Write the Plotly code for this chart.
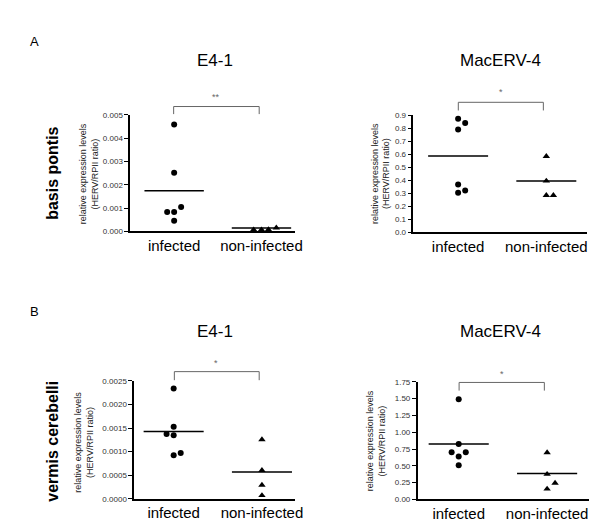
import plotly.graph_objects as go

W, H = 600, 529
FONT = "Arial, Liberation Sans, sans-serif"

categories = ["infected", "non-infected"]

# ---- data ----
# A: basis pontis, E4-1
a_e41_infected = [0.00458, 0.00251, 0.00105, 0.00083, 0.00083, 0.00045]
a_e41_noninfected = [0.00007, 0.00007, 0.00008, 0.00015]
a_e41_means = [0.00174, 0.00014]
# A: basis pontis, MacERV-4
a_mac_infected = [0.874, 0.842, 0.791, 0.366, 0.321, 0.303]
a_mac_noninfected = [0.584, 0.394, 0.283, 0.283]
a_mac_means = [0.586, 0.394]
# B: vermis cerebelli, E4-1
b_e41_infected = [0.00234, 0.00153, 0.001375, 0.001346, 0.00097, 0.000923]
b_e41_noninfected = [0.001256, 0.000604, 0.00029, 0.00007]
b_e41_means = [0.00143, 0.000569]
# B: vermis cerebelli, MacERV-4
b_mac_infected = [1.491, 0.823, 0.702, 0.702, 0.639, 0.507]
b_mac_noninfected = [0.697, 0.375, 0.244, 0.156]
b_mac_means = [0.823, 0.385]

significance = ["**", "*", "*", "*"]
titles = ["E4-1", "MacERV-4", "E4-1", "MacERV-4"]
row_labels = ["basis pontis", "vermis cerebelli"]
panel_letters = ["A", "B"]

# ---- layout (pixel geometry) ----
# jitter of points (category units) – style/positions
jit_inf = [[0, 0, 0.08, -0.08, 0, 0], [0, 0.08, 0, 0, 0.08, 0],
           [0, 0, -0.08, 0, 0.08, 0], [0, 0, -0.08, 0.08, 0, 0]]
jit_non = [[-0.09, 0, 0.08, 0.17], [0, 0, 0, 0.08],
           [0, 0, 0, 0], [0, 0, 0.09, 0]]

panels = [
    dict(inf=a_e41_infected, non=a_e41_noninfected, means=a_e41_means,
         x0=132, x1=299, c1=176.5, c2=265, ytop=112.7, ybot=231.3,
         yr=[0, 0.005], dtick=0.001, fmt=".3f",
         br=(176, 262.7, 104.3, 112), star=(219, 95),
         title=(218, 57), ytitle=(90, 172.5)),
    dict(inf=a_mac_infected, non=a_mac_noninfected, means=a_mac_means,
         x0=419, x1=595, c1=464.3, c2=553.7, ytop=113.3, ybot=232,
         yr=[0, 0.9], dtick=0.1, fmt=".1f",
         br=(464.5, 550.7, 100, 108.3), star=(507.5, 90),
         title=(507, 57), ytitle=(386, 172)),
    dict(inf=b_e41_infected, non=b_e41_noninfected, means=b_e41_means,
         x0=136, x1=299, c1=176, c2=265.5, ytop=383.5, ybot=503.3,
         yr=[0, 0.0025], dtick=0.0005, fmt=".4f",
         br=(176.7, 262.7, 374, 382.7), star=(219, 365),
         title=(218, 333), ytitle=(85.5, 446)),
    dict(inf=b_mac_infected, non=b_mac_noninfected, means=b_mac_means,
         x0=423.3, x1=597, c1=464.9, c2=554.5, ytop=384.3, ybot=504,
         yr=[0, 1.75], dtick=0.25, fmt=".2f",
         br=(465.3, 551.7, 385, 393.3), star=(508.3, 376),
         title=(507, 333), ytitle=(382, 444)),
]


def px(p):
    return p / W


def py(p):
    return 1 - p / H


fig = go.Figure()
annotations = []
shapes = []
half = 0.34

for i, p in enumerate(panels):
    n = i + 1
    xa = "x" if n == 1 else f"x{n}"
    ya = "y" if n == 1 else f"y{n}"
    unit = p["c2"] - p["c1"]
    xr = [1 - (p["c1"] - p["x0"]) / unit, 2 + (p["x1"] - p["c2"]) / unit]

    fig.add_trace(go.Scatter(
        x=[1 + j for j in jit_inf[i]], y=p["inf"], mode="markers",
        marker=dict(symbol="circle", size=6, color="black"),
        xaxis=xa, yaxis=ya, cliponaxis=False, showlegend=False))
    fig.add_trace(go.Scatter(
        x=[2 + j for j in jit_non[i]], y=p["non"], mode="markers",
        marker=dict(symbol="triangle-up", size=6.5, color="black"),
        xaxis=xa, yaxis=ya, cliponaxis=False, showlegend=False))
    mx, my = [], []
    for k, m in enumerate(p["means"]):
        mx += [k + 1 - half, k + 1 + half, None]
        my += [m, m, None]
    fig.add_trace(go.Scatter(
        x=mx, y=my, mode="lines", line=dict(color="black", width=1.5),
        xaxis=xa, yaxis=ya, cliponaxis=False, showlegend=False))

    xkey = "xaxis" if n == 1 else f"xaxis{n}"
    ykey = "yaxis" if n == 1 else f"yaxis{n}"
    fig.layout[xkey] = dict(
        domain=[px(p["x0"]), px(p["x1"])], range=xr, anchor=ya,
        showline=True, linecolor="black", linewidth=1.5, ticks="",
        ticklen=0, showgrid=False, zeroline=False, tickvals=[1, 2],
        ticktext=categories,
        tickfont=dict(family=FONT, size=15, color="black"),
        ticklabelstandoff=0)
    fig.layout[ykey] = dict(
        domain=[py(p["ybot"]), py(p["ytop"])], range=p["yr"], anchor=xa,
        showline=True, linecolor="black", linewidth=1.5, ticks="outside",
        ticklen=4, tickwidth=1, tickcolor="black", showgrid=False,
        zeroline=False, dtick=p["dtick"], tick0=0, tickformat=p["fmt"],
        tickfont=dict(family=FONT, size=8, color="#333"))

    bx0, bx1, bt, bb = p["br"]
    shapes.append(dict(type="path", xref="paper", yref="paper",
                       path=f"M {px(bx0)},{py(bb)} L {px(bx0)},{py(bt)} "
                            f"L {px(bx1)},{py(bt)} L {px(bx1)},{py(bb)}",
                       line=dict(color="#666", width=1)))
    annotations.append(dict(xref="paper", yref="paper", x=px(p["star"][0]),
                            y=py(p["star"][1]), text=significance[i],
                            showarrow=False, xanchor="center", yanchor="middle",
                            font=dict(family=FONT, size=9, color="#666")))
    annotations.append(dict(xref="paper", yref="paper", x=px(p["title"][0]),
                            y=py(p["title"][1]), text=titles[i],
                            showarrow=False, xanchor="center", yanchor="middle",
                            font=dict(family=FONT, size=17, color="black")))
    annotations.append(dict(xref="paper", yref="paper", x=px(p["ytitle"][0]),
                            y=py(p["ytitle"][1]),
                            text="relative expression levels<br>(HERV/RPII ratio)",
                            showarrow=False, textangle=-90, xanchor="center",
                            yanchor="middle",
                            font=dict(family=FONT, size=9, color="#222")))

for r, (lab, letter) in enumerate(zip(row_labels, panel_letters)):
    ycen = [172.5, 445][r]
    ylet = [38, 313][r]
    annotations.append(dict(xref="paper", yref="paper", x=px(53), y=py(ycen),
                            text=f"<b>{lab}</b>", showarrow=False, textangle=-90,
                            xanchor="center", yanchor="middle",
                            font=dict(family=FONT, size=16, color="black")))
    annotations.append(dict(xref="paper", yref="paper", x=px(35), y=py(ylet),
                            text=letter, showarrow=False, xanchor="center",
                            yanchor="middle",
                            font=dict(family=FONT, size=13, color="black")))

fig.update_layout(width=W, height=H, margin=dict(l=0, r=0, t=0, b=0),
                  paper_bgcolor="white", plot_bgcolor="white",
                  shapes=shapes, annotations=annotations, showlegend=False)

fig.write_html("out.html", config={"displayModeBar": False},
               post_script="document.body.style.margin='0px';"
                           "document.body.style.overflow='hidden';")
